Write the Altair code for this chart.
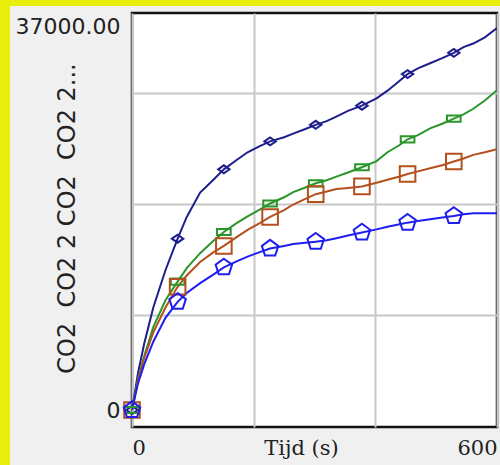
import altair as alt
import pandas as pd

# ---- data ----
times = [0, 10, 20, 35, 55, 75, 90, 112, 133, 151, 172, 190, 210, 227, 250, 265, 285,
         302, 320, 336, 355, 378, 402, 420, 440, 453, 470, 490, 510, 529, 545, 561, 580, 600]

co2_navy = [0, 3600, 6400, 9900, 13500, 16550, 18650, 21000, 22200, 23250, 24150, 24900,
            25500, 25950, 26350, 26700, 27150, 27550, 27900, 28350, 28900, 29400, 30100,
            30850, 31800, 32450, 33000, 33500, 34000, 34500, 35050, 35400, 36000, 36900]
co2_green = [0, 3000, 5200, 8000, 10600, 12400, 13700, 15150, 16300, 17200, 18050, 18700,
             19350, 19950, 20550, 21050, 21500, 21900, 22200, 22550, 22950, 23450, 24050,
             24900, 25600, 26150, 26550, 27200, 27650, 28150, 28550, 29100, 29900, 30900]
co2_brown = [0, 2900, 5000, 7500, 9900, 11900, 13000, 14300, 15200, 15850, 16700, 17400,
             18050, 18650, 19300, 19850, 20400, 20850, 21100, 21350, 21450, 21600, 21950,
             22250, 22550, 22800, 23050, 23350, 23650, 24000, 24300, 24650, 24900, 25200]
co2_blue = [0, 2600, 4400, 6600, 8900, 10450, 11300, 12250, 13050, 13780, 14350, 14820,
            15250, 15600, 15850, 16030, 16150, 16260, 16400, 16600, 16850, 17150, 17450,
            17700, 17950, 18100, 18250, 18420, 18600, 18750, 18900, 19000, 19000, 19000]

series_names = ["CO2 a", "CO2 b", "CO2 c", "CO2 d"]
series_values = [co2_navy, co2_green, co2_brown, co2_blue]
series_colors = ["#1e1e8c", "#2a962a", "#b4501e", "#1e1ef0"]
marker_times = [0, 75, 151, 227, 302, 378, 453, 529]

y_label_values = [0, 9178, 19902, 30625, 37000]
x_label_values = [0, 200, 400, 600]

rows = []
for name, vals in zip(series_names, series_values):
    for t, v in zip(times, vals):
        rows.append({"t": t, "v": v, "s": name, "m": t in marker_times})
df = pd.DataFrame(rows)

# marker shapes (custom paths in -1..1 box)
diamond = "M-1,0L0,-0.7L1,0L0,0.7Z"
flatrect = "M-1,-0.45H1V0.45H-1Z"
pentagon = "M0,-1L0.95,-0.31L0.59,0.81L-0.59,0.81L-0.95,-0.31Z"
shapes = [diamond, flatrect, "square", pentagon]
sizes = [130, 300, 200, 180]

xscale = alt.Scale(domain=[0, 600], nice=False, zero=False)
yscale = alt.Scale(domain=[-1642, 38352], nice=False, zero=False)
color = alt.Color("s:N", scale=alt.Scale(domain=series_names, range=series_colors), legend=None)

xaxis = alt.Axis(values=x_label_values,
                 labelExpr="datum.value == 0 || datum.value == 600 ? datum.label : ''",
                 labelFlush=True, ticks=False, domain=False, grid=True,
                 gridColor="#c8c8c8", gridWidth=2,
                 labelFont="DejaVu Serif", labelFontSize=21, labelColor="#222222",
                 labelPadding=10,
                 title="Tijd (s)", titleFont="DejaVu Serif", titleFontSize=21,
                 titleFontWeight="normal", titleColor="#222222",
                 titleX=169, titleY=27, titleBaseline="alphabetic", titleAlign="center")

yaxis = alt.Axis(values=y_label_values,
                 labelExpr="datum.value == 37000 ? '37000.00' : (datum.value == 0 ? '0' : '')",
                 ticks=False, domain=False, grid=True,
                 gridColor="#c8c8c8", gridWidth=2,
                 gridOpacity={"condition": {"test": "datum.value == 0 || datum.value == 37000", "value": 0}, "value": 1},
                 labelFont="DejaVu Sans", labelFontSize=22, labelColor="#222222",
                 labelPadding=12, labelBaseline="middle",
                 title="CO2\u00a0\u00a0CO2 2 CO2\u00a0\u00a0CO2 2...",
                 titleFont="DejaVu Sans", titleFontSize=24, titleFontWeight="normal",
                 titleColor="#222222", titleAngle=270,
                 titleX=-65, titleY=205, titleBaseline="middle", titleAlign="center")

base = alt.Chart(df)

lines = base.mark_line(strokeWidth=2, clip=True).encode(
    x=alt.X("t:Q", scale=xscale, axis=xaxis),
    y=alt.Y("v:Q", scale=yscale, axis=yaxis),
    color=color,
    detail="s:N",
)

points = base.transform_filter("datum.m").mark_point(filled=False, strokeWidth=2, opacity=1).encode(
    x=alt.X("t:Q", scale=xscale),
    y=alt.Y("v:Q", scale=yscale),
    color=color,
    shape=alt.Shape("s:N", scale=alt.Scale(domain=series_names, range=shapes), legend=None),
    size=alt.Size("s:N", scale=alt.Scale(domain=series_names, range=sizes), legend=None),
)

deco = alt.Chart(alt.Data(values=[{"k": 1}]))
yellow_left = deco.mark_rect(color="#e6ee0a").encode(
    x=alt.value(-132), x2=alt.value(-122), y=alt.value(-13), y2=alt.value(452))
yellow_top = deco.mark_rect(color="#e6ee0a").encode(
    x=alt.value(-132), x2=alt.value(368), y=alt.value(-13), y2=alt.value(-7))

chart = alt.layer(yellow_left, yellow_top, lines, points).properties(
    width=365, height=414,
    autosize=alt.AutoSizeParams(type="none"),
    padding={"left": 132, "top": 13, "right": 3, "bottom": 38},
    background="#f0f0f0",
).configure_view(
    fill="white", stroke="#111111", strokeWidth=2.5,
)

chart.save("out.html", embed_options={"renderer": "svg", "actions": False})
